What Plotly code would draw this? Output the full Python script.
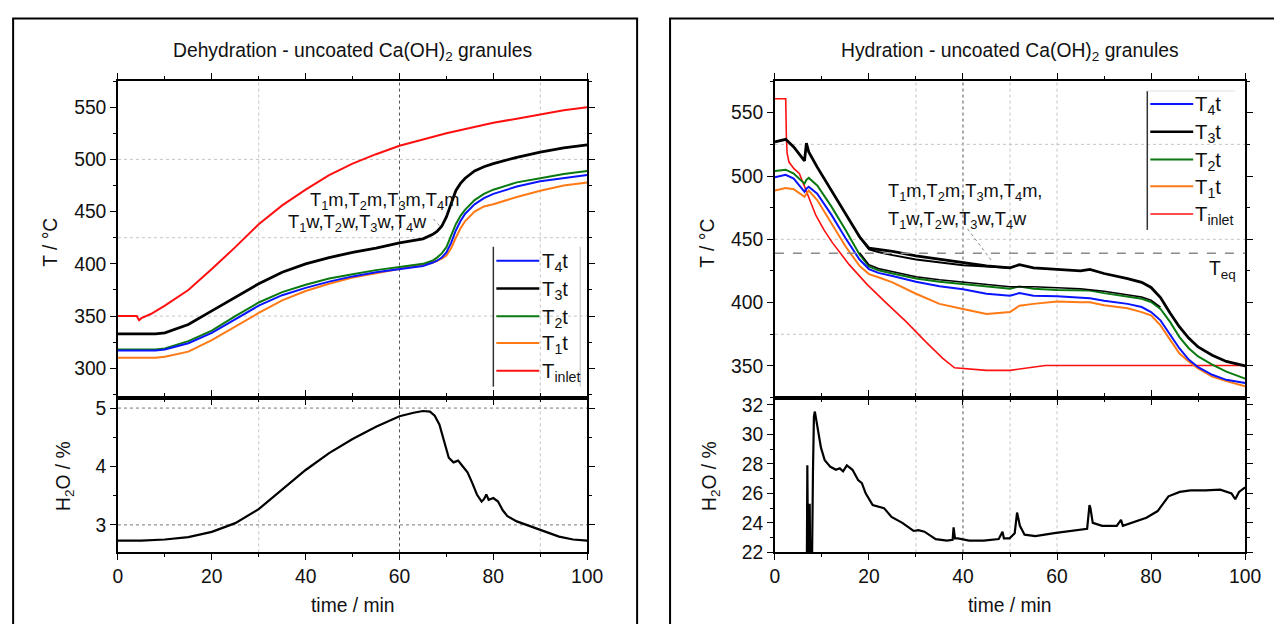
import plotly.graph_objects as go

# the page adds an 8px body margin, so the figure is sized to fill the window exactly
PAGE_W, PAGE_H = 1282, 632
FIG_W, FIG_H = PAGE_W - 16, PAGE_H - 16
# the photographed page comes out slightly shrunk; measured from an earlier run
SHOT_SCALE, SHOT_DX, SHOT_DY = 0.985, 2.0, -0.5
FONT = "Liberation Sans, Arial, sans-serif"

# ---------------- Dehydration (left) ----------------
DEHY_TIME = [0, 4, 8, 10, 15, 20, 25, 30, 35, 40, 45, 50, 55, 60, 65, 67, 68, 69, 70,
             71, 72, 73, 74, 76, 78, 80, 85, 90, 95, 100]
DEHY_T4 = [317, 317, 317, 318, 324, 334, 347, 360, 370, 377, 383, 388, 392, 395, 398, 401,
           403, 406, 411, 420, 432, 441, 448, 457, 463, 467, 474, 479, 482, 485]
DEHY_T3 = [333, 333, 333, 334, 342, 355, 368, 381, 392, 400, 406, 411, 415, 420, 424, 428,
           431, 436, 445, 458, 470, 477, 482, 489, 493, 496, 502, 507, 511, 514]
DEHY_T2 = [318, 318, 318, 319, 326, 336, 350, 363, 373, 380, 386, 390, 394, 397, 400, 403,
           406, 410, 416, 427, 438, 446, 452, 461, 467, 471, 478, 482, 486, 489]
DEHY_T1 = [310, 310, 310, 311, 316, 327, 340, 353, 365, 374, 381, 387, 391, 395, 399, 401,
           403, 405, 408, 415, 425, 434, 441, 450, 455, 457, 464, 470, 475, 478]
DEHY_INLET_TIME = [0, 4, 4.5, 5, 7, 10, 15, 20, 25, 30, 35, 40, 45, 50, 55, 60, 65, 70,
                   75, 80, 85, 90, 95, 100]
DEHY_INLET = [350, 350, 346, 348, 352, 360, 375, 395, 416, 438, 456, 471, 485, 496, 505,
              513, 519, 525, 530, 535, 539, 543, 547, 550]
DEHY_H2O_TIME = [0, 5, 10, 15, 20, 25, 30, 35, 40, 45, 50, 55, 60, 63, 65, 66.5, 67.5,
                 68.5, 69.5, 70.5, 71.5, 72.5, 73.5, 74.5, 75.5, 76.5, 77.5, 78, 78.5, 79,
                 80, 81, 82, 83, 85, 88, 91, 94, 97, 100]
DEHY_H2O = [2.73, 2.73, 2.75, 2.79, 2.88, 3.03, 3.27, 3.6, 3.94, 4.23, 4.47, 4.68, 4.86,
            4.92, 4.95, 4.94, 4.87, 4.72, 4.45, 4.15, 4.07, 4.1, 4.0, 3.9, 3.72, 3.52, 3.4,
            3.44, 3.52, 3.43, 3.46, 3.4, 3.25, 3.15, 3.06, 2.97, 2.88, 2.8, 2.75, 2.73]

# ---------------- Hydration (right) ----------------
HYD_TIME = [0, 2.3, 4, 6.3, 6.7, 7.2, 9, 12, 15, 18, 20, 22, 25, 30, 35, 40, 45, 50, 52,
            55, 60, 65, 67, 70, 75, 78, 80, 82, 84, 86, 88, 90, 93, 96, 100]
HYD_T4 = [499, 501, 498, 487.5, 490, 491.5, 486, 469.5, 451, 434, 426.5, 423.5, 421, 416.5,
          413, 410.5, 407, 405.5, 407.5, 405.5, 405, 404, 403.5, 401.5, 399, 396.5, 392.5,
          386, 375.5, 364, 355, 349, 343, 339, 336.5]
HYD_T3 = [527, 529, 523, 512, 526, 519, 507, 489, 471, 452, 443, 442, 440.5, 437, 434.5,
          431.5, 429, 427.5, 430, 427.5, 426, 425, 426.3, 423, 419, 416, 412, 404, 392, 381,
          372, 365, 358.5, 353.5, 350]
HYD_T2 = [504, 505, 502, 494, 497, 498.5, 492.5, 476, 457.5, 438, 428.5, 425.5, 423, 419,
          416.5, 414.5, 412.5, 411, 412.8, 411, 410, 409.5, 409.5, 407.5, 405, 403, 400.5,
          395, 385, 373, 364, 357.5, 351, 345.5, 340]
HYD_T1 = [488.5, 490.5, 489.5, 483.5, 486, 488.5, 481, 463, 444.5, 429, 422.5, 420, 416,
          407, 399, 395, 391, 392.5, 397.5, 399, 400.8, 400.3, 400.3, 398, 395.5, 392.5, 390,
          382, 370.5, 360, 353.5, 348, 341.5, 338, 334]
HYD_INLET_TIME = [0, 2.3, 2.45, 2.6, 3, 4, 5.2, 6.6, 7.7, 8.7, 10.5, 12.3, 15.8, 19.7,
                  23.6, 27.9, 32.1, 35.7, 38.2, 40.6, 45, 50, 52.3, 55, 57.5, 60, 67, 70,
                  80, 90, 100]
HYD_INLET = [561, 561, 530, 518, 511, 506, 502, 489, 478, 469, 457, 447, 430, 414, 400,
             385, 369, 356, 348.5, 348, 346.5, 346.5, 347.5, 349, 350.3, 350.3, 350, 350.3,
             350.3, 350.3, 350.3]
# extra thermocouples (T1m..T4m, T1w..T4w), drawn in black
HYD_TMW_A_TIME = [18, 20, 22, 25, 30, 35, 40, 45, 50]
HYD_TMW_A = [452, 442, 440, 437.5, 434, 432, 429.5, 428.5, 427.5]
HYD_TMW_B_TIME = [18, 20, 22, 25, 30, 35, 40, 45, 50, 55, 60, 65, 70, 75, 78, 80, 82]
HYD_TMW_B = [439.5, 430, 427, 424.5, 420.5, 418, 416, 414, 412.5, 412.5, 411.5, 411, 409,
             406.5, 404.5, 402, 396.5]
HYD_TEQ = 439
HYD_H2O_TIME = [6.8, 6.9, 7.05, 7.4, 7.5, 7.9, 8.1, 8.3, 8.5, 9.0, 9.8, 10.6, 11.8, 13.0,
                13.8, 14.5, 15.3, 16.5, 17.7, 18.5, 19.3, 20.8, 22.0, 23.2, 24.8, 27.1,
                29.5, 30.5, 31.8, 34.2, 36.6, 37.8, 38.0, 38.3, 38.9, 41.3, 44.4, 47.6,
                48.4, 48.7, 49.9, 51.0, 51.5, 52.1, 53.1, 55.4, 59.4, 63.3, 66.4, 66.9,
                67.1, 67.6, 69.6, 72.7, 73.6, 74.0, 75.9, 79.0, 81.4, 83.7, 86.1, 88.4,
                91.6, 94.7, 97.1, 97.9, 98.7, 100]
HYD_H2O = [21.5, 27.9, 21.5, 25.3, 21.5, 21.5, 27.5, 31.2, 31.55, 30.7, 29.1, 28.25, 27.8,
           27.6, 27.7, 27.5, 27.9, 27.6, 26.9, 26.7, 26.0, 25.2, 25.1, 25.0, 24.4, 24.0,
           23.45, 23.5, 23.4, 22.9, 22.8, 22.85, 23.7, 22.95, 22.95, 22.8, 22.8, 22.9, 23.4,
           22.95, 22.95, 23.3, 24.7, 23.8, 23.2, 23.1, 23.3, 23.45, 23.6, 25.2, 25.0, 24.0,
           23.8, 23.8, 24.2, 23.8, 24.0, 24.35, 24.8, 25.8, 26.1, 26.2, 26.2, 26.25, 26.0,
           25.6, 26.1, 26.4]

LEGEND_LABELS = ["T<sub>4</sub>t", "T<sub>3</sub>t", "T<sub>2</sub>t", "T<sub>1</sub>t",
                 "T<sub>inlet</sub>"]
COLORS = {"T4": "#0a14ff", "T3": "#000000", "T2": "#0a7a10", "T1": "#ff7a14",
          "inlet": "#ff1010"}


# positions below are given in photographed pixels
def px(x):
    return ((x - SHOT_DX) / SHOT_SCALE - 8) / FIG_W


def py(y):
    return 1 - ((y - SHOT_DY) / SHOT_SCALE - 8) / FIG_H


def fs(size):
    return round(size / SHOT_SCALE, 1)


def line(x, y, color, width, xa, ya):
    return go.Scatter(x=x, y=y, mode="lines", line=dict(color=color, width=width),
                      xaxis=xa, yaxis=ya, showlegend=False, hoverinfo="skip")


def axis_style(**kw):
    base = dict(showline=True, linecolor="black", linewidth=1.5, mirror="ticks",
                ticks="outside", ticklen=6, tickwidth=1.2, tickcolor="black",
                showgrid=False, zeroline=False,
                tickfont=dict(family=FONT, size=fs(19), color="#111"))
    base.update(kw)
    return base


fig = go.Figure()

# left panel traces
fig.add_trace(line(DEHY_INLET_TIME, DEHY_INLET, COLORS["inlet"], 2, "x", "y"))
fig.add_trace(line(DEHY_TIME, DEHY_T1, COLORS["T1"], 2, "x", "y"))
fig.add_trace(line(DEHY_TIME, DEHY_T2, COLORS["T2"], 2, "x", "y"))
fig.add_trace(line(DEHY_TIME, DEHY_T3, COLORS["T3"], 2.8, "x", "y"))
fig.add_trace(line(DEHY_TIME, DEHY_T4, COLORS["T4"], 2, "x", "y"))
fig.add_trace(line(DEHY_H2O_TIME, DEHY_H2O, "black", 2.2, "x2", "y2"))

# right panel traces
fig.add_trace(line(HYD_INLET_TIME, HYD_INLET, COLORS["inlet"], 1.6, "x3", "y3"))
fig.add_trace(line(HYD_TIME, HYD_T1, COLORS["T1"], 2, "x3", "y3"))
fig.add_trace(line(HYD_TIME, HYD_T2, COLORS["T2"], 2, "x3", "y3"))
fig.add_trace(line(HYD_TMW_B_TIME, HYD_TMW_B, "black", 1.5, "x3", "y3"))
fig.add_trace(line(HYD_TMW_A_TIME, HYD_TMW_A, "black", 2, "x3", "y3"))
fig.add_trace(line(HYD_TIME, HYD_T3, COLORS["T3"], 2.8, "x3", "y3"))
fig.add_trace(line(HYD_TIME, HYD_T4, COLORS["T4"], 2, "x3", "y3"))
fig.add_trace(line(HYD_H2O_TIME, HYD_H2O, "black", 2.2, "x4", "y4"))

LX = [px(115), px(585)]
RX = [px(773), px(1244)]
TOP = [py(397), py(78)]
BOT = [py(553), py(397)]

fig.update_layout(
    width=FIG_W, height=FIG_H, margin=dict(l=0, r=0, t=0, b=0),
    paper_bgcolor="white", plot_bgcolor="white", showlegend=False,
    font=dict(family=FONT, size=fs(19), color="#111"),
    xaxis=axis_style(domain=LX, anchor="y", range=[0, 100], dtick=20,
                     showticklabels=False, minor=dict(dtick=10, ticklen=3, ticks="outside")),
    yaxis=axis_style(domain=TOP, anchor="x", range=[272, 575], dtick=50,
                     minor=dict(dtick=25, ticklen=3, ticks="outside")),
    xaxis2=axis_style(domain=LX, anchor="y2", range=[0, 100], dtick=20,
                      minor=dict(dtick=10, ticklen=3, ticks="outside")),
    yaxis2=axis_style(domain=BOT, anchor="x2", range=[2.53, 5.18], dtick=1,
                      minor=dict(dtick=0.5, ticklen=3, ticks="outside")),
    xaxis3=axis_style(domain=RX, anchor="y3", range=[0, 100], dtick=20,
                      showticklabels=False, minor=dict(dtick=10, ticklen=3, ticks="outside")),
    yaxis3=axis_style(domain=TOP, anchor="x3", range=[325, 575], dtick=50,
                      minor=dict(dtick=25, ticklen=3, ticks="outside")),
    xaxis4=axis_style(domain=RX, anchor="y4", range=[0, 100], dtick=20,
                      minor=dict(dtick=10, ticklen=3, ticks="outside")),
    yaxis4=axis_style(domain=BOT, anchor="x4", range=[22, 32.5], dtick=2,
                      minor=dict(dtick=1, ticklen=3, ticks="outside")),
)

shapes = []
# outer frames
shapes.append(dict(type="rect", xref="paper", yref="paper", x0=px(10), x1=px(1320),
                   y0=py(660), y1=py(15), line=dict(color="black", width=2)))
shapes[-1]["x1"] = px(635)
shapes.append(dict(type="rect", xref="paper", yref="paper", x0=px(668), x1=px(1320),
                   y0=py(660), y1=py(15), line=dict(color="black", width=2)))

LIGHT = dict(color="#c4c4c4", width=1, dash="dot")
DARK = dict(color="#555555", width=1, dash="dot")


def vgrid(xa, ya, xs, dark):
    for v in xs:
        shapes.append(dict(type="line", xref=xa, yref=ya + " domain", x0=v, x1=v, y0=0, y1=1,
                           layer="below", line=DARK if v == dark else LIGHT))


def hgrid(xa, ya, ys, style):
    for v in ys:
        shapes.append(dict(type="line", xref=xa + " domain", yref=ya, x0=0, x1=1, y0=v, y1=v,
                           layer="below", line=style))


vgrid("x", "y", [30, 60, 90], 60)
vgrid("x2", "y2", [30, 60, 90], 60)
hgrid("x", "y", [350, 425, 500], LIGHT)
hgrid("x2", "y2", [3, 5], dict(color="#777777", width=1, dash="dot"))
vgrid("x3", "y3", [30, 40, 50, 60], 40)
vgrid("x4", "y4", [30, 40, 50, 60], 40)
hgrid("x3", "y3", [375, 450, 525], LIGHT)
# equilibrium temperature
shapes.append(dict(type="line", xref="x3 domain", yref="y3", x0=0, x1=1, y0=HYD_TEQ,
                   y1=HYD_TEQ, line=dict(color="#8a8a8a", width=1.5, dash="dash")))

# pointer lines from the thermocouple labels
shapes.append(dict(type="line", xref="paper", yref="paper", x0=px(431), x1=px(439),
                   y0=py(217), y1=py(226), line=dict(color="#888", width=1, dash="dot")))
shapes.append(dict(type="line", xref="paper", yref="paper", x0=px(966), x1=px(990),
                   y0=py(227), y1=py(259), line=dict(color="#888", width=1, dash="dot")))

annotations = []


def text(x, y, s, size=19, xanchor="center", angle=0):
    annotations.append(dict(x=px(x), y=py(y), xref="paper", yref="paper", text=s,
                            showarrow=False, xanchor=xanchor, yanchor="middle",
                            textangle=angle,
                            font=dict(family=FONT, size=fs(size), color="#111")))


def legend(x_line, x_text, ys, y_top, y_bot, widths, right_border, top_border):
    colors = [COLORS["T4"], COLORS["T3"], COLORS["T2"], COLORS["T1"], COLORS["inlet"]]
    shapes.append(dict(type="line", xref="paper", yref="paper", x0=px(x_line - 3),
                       x1=px(x_line - 3), y0=py(y_bot), y1=py(y_top),
                       line=dict(color="#333", width=1.5)))
    if right_border:
        shapes.append(dict(type="line", xref="paper", yref="paper", x0=px(right_border),
                           x1=px(right_border), y0=py(y_bot), y1=py(y_top),
                           line=dict(color="#bbb", width=1)))
    if top_border:
        shapes.append(dict(type="line", xref="paper", yref="paper", x0=px(x_line - 3),
                           x1=px(top_border), y0=py(y_top), y1=py(y_top),
                           line=dict(color="#e2e2e2", width=1)))
    for lab, col, yy, w in zip(LEGEND_LABELS, colors, ys, widths):
        shapes.append(dict(type="line", xref="paper", yref="paper", x0=px(x_line),
                           x1=px(x_line + 43), y0=py(yy), y1=py(yy),
                           line=dict(color=col, width=w)))
        text(x_text, yy + 2, lab, size=20, xanchor="left")


legend(494, 538, [259, 287, 315, 342, 370], 245, 386, [2, 2.5, 2, 2, 2], 578, None)
legend(1149, 1192, [101, 129, 157, 184, 212], 88, 228, [2, 2.5, 2, 2, 1.5], None, 1234)

# titles
text(350, 49, "Dehydration - uncoated Ca(OH)<sub>2</sub> granules")
text(1008, 49, "Hydration - uncoated Ca(OH)<sub>2</sub> granules")
# axis titles
text(48, 241, "T / °C", angle=-90)
text(62, 476, "H<sub>2</sub>O / %", angle=-90)
text(706, 241, "T / °C", angle=-90)
text(709, 476, "H<sub>2</sub>O / %", angle=-90)
text(350, 607, "time / min")
text(1008, 607, "time / min")
# thermocouple labels
text(305, 199, "T<sub>1</sub>m,T<sub>2</sub>m,T<sub>3</sub>m,T<sub>4</sub>m", size=18,
     xanchor="left")
text(283, 221, "T<sub>1</sub>w,T<sub>2</sub>w,T<sub>3</sub>w,T<sub>4</sub>w", size=18,
     xanchor="left")
text(884, 190, "T<sub>1</sub>m,T<sub>2</sub>m,T<sub>3</sub>m,T<sub>4</sub>m,", size=18,
     xanchor="left")
text(884, 218, "T<sub>1</sub>w,T<sub>2</sub>w,T<sub>3</sub>w,T<sub>4</sub>w", size=18,
     xanchor="left")
text(1206, 268, "T<sub>eq</sub>", size=19, xanchor="left")

fig.update_layout(shapes=shapes, annotations=annotations)
fig.write_html("out.html")
